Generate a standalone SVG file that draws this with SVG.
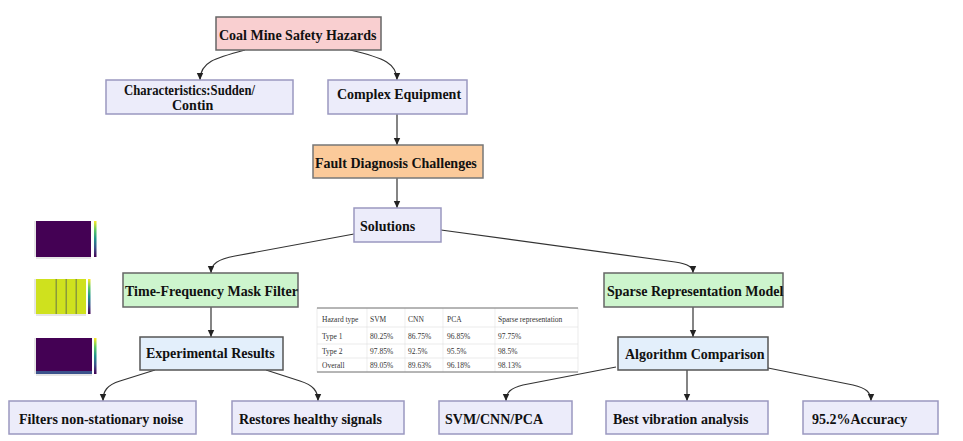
<svg xmlns="http://www.w3.org/2000/svg" width="963" height="441" viewBox="0 0 963 441">
<defs>
<marker id="arr" markerWidth="8" markerHeight="8" refX="7" refY="4" orient="auto" markerUnits="userSpaceOnUse">
<path d="M0,0.8 L7,4 L0,7.2 Z" fill="#222"/>
</marker>
<linearGradient id="vir" x1="0" y1="1" x2="0" y2="0">
<stop offset="0" stop-color="#440154"/>
<stop offset="0.25" stop-color="#3b528b"/>
<stop offset="0.5" stop-color="#21918c"/>
<stop offset="0.75" stop-color="#5ec962"/>
<stop offset="1" stop-color="#fde725"/>
</linearGradient>
</defs>
<style>
.n rect{stroke-width:1.5}
.t{font-family:"Liberation Serif","Times New Roman",serif;font-weight:bold;font-size:14px;fill:#111}
.pink{fill:#f9cfd0;stroke:#666}
.lav{fill:#ececfa;stroke:#9a98c0}
.org{fill:#fbca9a;stroke:#777}
.grn{fill:#cdf5cd;stroke:#666}
.blu{fill:#e3effb;stroke:#555}
.edge path{fill:none;stroke:#333;stroke-width:1.2;marker-end:url(#arr)}
.tb{font-family:"Liberation Serif","Times New Roman",serif;font-size:7.5px;fill:#333}
.ax{stroke:#999;stroke-width:0.5}
</style>
<rect width="963" height="441" fill="#fff"/>

<g id="plots">
<rect x="36" y="221" width="55" height="36" fill="#440154"/>
<rect x="94" y="221" width="2.5" height="36" fill="url(#vir)"/>
<rect x="36" y="279" width="50" height="35" fill="#cfe11e"/>
<rect x="55.5" y="279" width="1.5" height="35" fill="#8a9a3a"/>
<rect x="65.5" y="279" width="1.5" height="35" fill="#8a9a3a"/>
<rect x="75.5" y="279" width="1.5" height="35" fill="#8a9a3a"/>
<rect x="88" y="279" width="2.5" height="35" fill="url(#vir)"/>
<rect x="36" y="338" width="56" height="36" fill="#440154"/>
<rect x="36" y="371" width="56" height="3" fill="#3b528b"/>
<rect x="94" y="338" width="2.5" height="36" fill="url(#vir)"/>
<path class="ax" d="M36,258 H91 M36,315 H86 M36,375 H92 M35,221 V257 M35,279 V314 M35,338 V374"/>
</g>

<g id="table">
<rect x="317" y="308" width="261" height="64" fill="#fff" stroke="#ddd" stroke-width="0.6"/>
<path d="M367,308 V372 M405,308 V372 M443,308 V372 M495,308 V372" stroke="#e2e2e2" stroke-width="0.6"/>
<path d="M317,327 H578 M317,344 H578 M317,358 H578" stroke="#ddd" stroke-width="0.6"/>
<path d="M317,308 H578 M317,372 H578" stroke="#777" stroke-width="1"/>
<g class="tb">
<text x="322" y="322">Hazard type</text><text x="370" y="322">SVM</text><text x="408" y="322">CNN</text><text x="447" y="322">PCA</text><text x="498" y="322">Sparse representation</text>
<text x="322" y="339">Type 1</text><text x="370" y="339">80.25%</text><text x="408" y="339">86.75%</text><text x="447" y="339">96.85%</text><text x="498" y="339">97.75%</text>
<text x="322" y="354">Type 2</text><text x="370" y="354">97.85%</text><text x="408" y="354">92.5%</text><text x="447" y="354">95.5%</text><text x="498" y="354">98.5%</text>
<text x="322" y="368">Overall</text><text x="370" y="368">89.05%</text><text x="408" y="368">89.63%</text><text x="447" y="368">96.18%</text><text x="498" y="368">98.13%</text>
</g>
</g>

<g id="edges" class="edge">
<path d="M245,50 C215,58 200,62 200,80"/>
<path d="M350,50 C385,58 397,64 397,80"/>
<path d="M397,114 V145"/>
<path d="M397,178 V208"/>
<path d="M354,234 L235,256 C218,259 211,264 211,273"/>
<path d="M441,230 L675,262 C688,264 693,267 693,273"/>
<path d="M211,307 V337"/>
<path d="M693,307 V337"/>
<path d="M155,370 L120,381 C107,385 103,391 103,401"/>
<path d="M266,370 L300,381 C313,385 318,391 318,401"/>
<path d="M616,367 L523,385 C511,388 506,392 506,401"/>
<path d="M687,370 V401"/>
<path d="M763,367 L853,385 C866,388 871,392 871,401"/>
</g>

<g id="n1" class="n"><rect class="pink" x="216" y="17" width="165" height="33"/><text class="t" x="219" y="40">Coal Mine Safety Hazards</text></g>
<g id="n2" class="n"><rect class="lav" x="106" y="80" width="187" height="34"/><text class="t" x="124" y="95" textLength="131" lengthAdjust="spacingAndGlyphs">Characteristics:Sudden/</text><text class="t" x="172" y="110">Contin</text></g>
<g id="n3" class="n"><rect class="lav" x="328" y="80" width="139" height="34"/><text class="t" x="337" y="99">Complex Equipment</text></g>
<g id="n4" class="n"><rect class="org" x="313" y="145" width="170" height="33"/><text class="t" x="315" y="168">Fault Diagnosis Challenges</text></g>
<g id="n5" class="n"><rect class="lav" x="354" y="208" width="87" height="34"/><text class="t" x="360" y="231">Solutions</text></g>
<g id="n6" class="n"><rect class="grn" x="123" y="273" width="175" height="34"/><text class="t" x="125" y="296">Time-Frequency Mask Filter</text></g>
<g id="n7" class="n"><rect class="grn" x="604" y="273" width="179" height="34"/><text class="t" x="607" y="296">Sparse Representation Model</text></g>
<g id="n8" class="n"><rect class="blu" x="140" y="337" width="143" height="33"/><text class="t" x="146" y="358">Experimental Results</text></g>
<g id="n9" class="n"><rect class="blu" x="618" y="337" width="150" height="33"/><text class="t" x="625" y="359">Algorithm Comparison</text></g>
<g id="n10" class="n"><rect class="lav" x="9" y="401" width="187" height="33"/><text class="t" x="19" y="424">Filters non-stationary noise</text></g>
<g id="n11" class="n"><rect class="lav" x="232" y="401" width="172" height="33"/><text class="t" x="239" y="424">Restores healthy signals</text></g>
<g id="n12" class="n"><rect class="lav" x="439" y="401" width="133" height="33"/><text class="t" x="445" y="424">SVM/CNN/PCA</text></g>
<g id="n13" class="n"><rect class="lav" x="606" y="401" width="162" height="33"/><text class="t" x="613" y="424">Best vibration analysis</text></g>
<g id="n14" class="n"><rect class="lav" x="803" y="401" width="135" height="33"/><text class="t" x="812" y="424">95.2%Accuracy</text></g>
</svg>
